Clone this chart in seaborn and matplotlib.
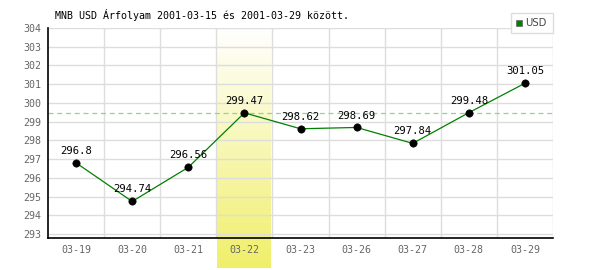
import matplotlib
matplotlib.use("Agg")
import matplotlib.pyplot as plt
import seaborn as sns
import numpy as np
import pandas as pd
from matplotlib.colors import LinearSegmentedColormap
from matplotlib.patches import Rectangle

dates = ["03-19", "03-20", "03-21", "03-22", "03-23", "03-26", "03-27", "03-28", "03-29"]
rates = [296.8, 294.74, 296.56, 299.47, 298.62, 298.69, 297.84, 299.48, 301.05]
rate_labels = ["296.8", "294.74", "296.56", "299.47", "298.62", "298.69", "297.84", "299.48", "301.05"]
highlight = "03-22"
title = "MNB USD Árfolyam 2001-03-15 és 2001-03-29 között."
series = "USD"

sns.set_style("white")
plt.rcParams['font.family'] = ['DejaVu Sans Mono', 'DejaVu Sans']

df = pd.DataFrame({"x": np.arange(len(dates)), "rate": rates})

fig = plt.figure(figsize=(6, 2.7), dpi=100)
ax = fig.add_axes([48/600, 1-238/270, 505/600, 210/270])

ymin = 304 - (238-28)/18.73
ax.set_xlim(-0.5, len(dates)-0.5)
ax.set_ylim(ymin, 304)

# highlight gradient band
hi = dates.index(highlight)
grad = np.linspace(0, 1, 256).reshape(-1, 1)
cmap = LinearSegmentedColormap.from_list("hl", ["#ffffff", "#f0ef6a"])
yb = 304 - (268-28)/18.73
ax.imshow(grad, cmap=cmap, aspect="auto", origin="upper",
          extent=(hi-0.48, hi+0.48, yb, 304), zorder=0, clip_on=False)

# grid
for v in range(293, 305):
    ax.axhline(v, color="#dddddd", lw=1, zorder=1)
for i in range(len(dates)):
    ax.axvline(i+0.5, color="#dddddd", lw=1, zorder=1)

ax.axhline(rates[hi], color="#8fd68f", lw=0.9, ls=(0, (4, 3)), zorder=2)

sns.lineplot(data=df, x="x", y="rate", ax=ax, color="#008000", lw=0.9, zorder=3, legend=False)
sns.scatterplot(data=df, x="x", y="rate", ax=ax, color="black", s=28, edgecolor="black", zorder=4, legend=False)

for i, (r, lab) in enumerate(zip(rates, rate_labels)):
    ax.annotate(lab, (i, r), xytext=(0, 5), textcoords="offset points",
                ha="center", va="bottom", fontsize=7.6, color="black", zorder=5)

ax.set_xticks(np.arange(len(dates)))
ax.set_xticklabels(dates)
ax.set_yticks(range(293, 305))
ax.tick_params(axis="both", labelsize=7.2, colors="#666666", length=0, pad=5)
ax.set_xlabel("")
ax.set_ylabel("")
for s in ["top", "right"]:
    ax.spines[s].set_visible(False)
for s in ["left", "bottom"]:
    ax.spines[s].set_color("black")
    ax.spines[s].set_linewidth(1.2)

fig.text(55/600, 1-15/270, title, fontsize=7.2, va="center", ha="left", color="black")

# legend
fig.patches.append(Rectangle((511/600, 1-33/270), 42/600, 20/270, transform=fig.transFigure,
                             facecolor="white", edgecolor="#dddddd", lw=1))
fig.patches.append(Rectangle((516/600, 1-26/270), 6/600, 6/270, transform=fig.transFigure,
                             facecolor="#008000", edgecolor="#666666", lw=0.5))
fig.text(525/600, 1-23/270, series, fontsize=7.2, va="center", ha="left", color="#444444",
         family="DejaVu Sans")

fig.savefig("out.png", dpi=100, facecolor="white")
